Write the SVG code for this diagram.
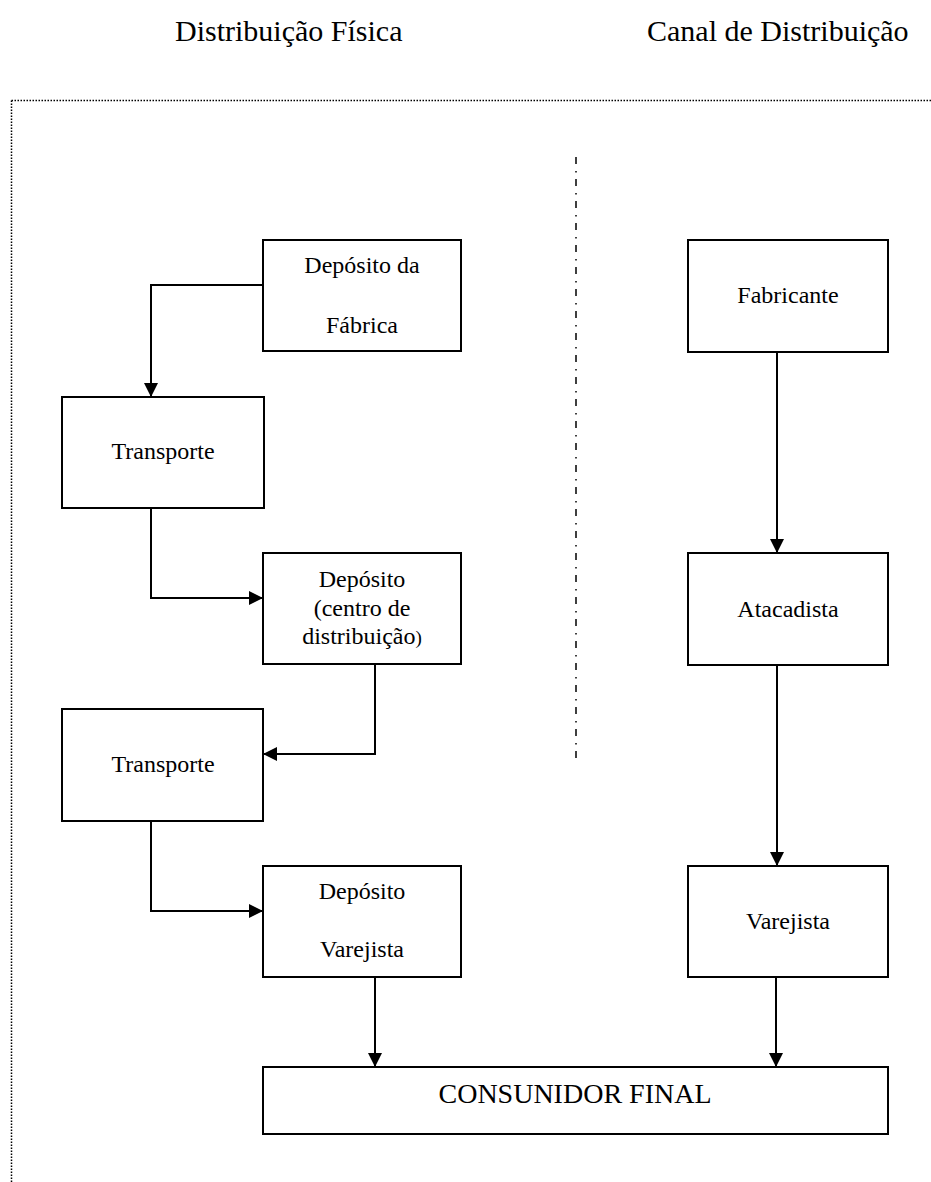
<svg xmlns="http://www.w3.org/2000/svg" width="931" height="1182" viewBox="0 0 931 1182">
<defs>
<style>
.box{fill:#fff;stroke:#000;stroke-width:2}
.t{font-family:"Liberation Serif","Times New Roman",serif;font-size:24px;fill:#000;text-anchor:middle}
.h{font-family:"Liberation Serif","Times New Roman",serif;font-size:30px;fill:#000}
.c{fill:none;stroke:#000;stroke-width:2}
</style>
<marker id="ah" markerUnits="userSpaceOnUse" markerWidth="15" markerHeight="15" refX="14" refY="7" orient="auto">
<path d="M0,0 L14,7 L0,14 z" fill="#000"/>
</marker>
</defs>
<rect width="931" height="1182" fill="#fff"/>
<text class="h" x="175" y="41">Distribuição Física</text>
<text class="h" x="647" y="41">Canal de Distribuição</text>
<path d="M11.5,100.5 H931 M11.5,100.5 V1182" fill="none" stroke="#000" stroke-width="1.5" stroke-dasharray="1.5 1.5"/>
<line x1="576" y1="157" x2="576" y2="765" stroke="#000" stroke-width="1.5" stroke-dasharray="7 7 1.5 6.5"/>
<g id="n1"><rect class="box" x="263" y="240" width="198" height="111"/><text class="t" x="362" y="273">Depósito da</text><text class="t" x="362" y="333">Fábrica</text></g>
<g id="n2"><rect class="box" x="62" y="397" width="202" height="111"/><text class="t" x="163" y="459">Transporte</text></g>
<g id="n3"><rect class="box" x="263" y="553" width="198" height="111"/><text class="t" x="362" y="587">Depósito</text><text class="t" x="362" y="616">(centro de</text><text class="t" x="362" y="644">distribuição<tspan font-size="19">)</tspan></text></g>
<g id="n4"><rect class="box" x="62" y="709" width="201" height="112"/><text class="t" x="163" y="772">Transporte</text></g>
<g id="n5"><rect class="box" x="263" y="866" width="198" height="111"/><text class="t" x="362" y="899">Depósito</text><text class="t" x="362" y="957">Varejista</text></g>
<g id="n6"><rect class="box" x="688" y="240" width="200" height="112"/><text class="t" x="788" y="303">Fabricante</text></g>
<g id="n7"><rect class="box" x="688" y="553" width="200" height="112"/><text class="t" x="788" y="617">Atacadista</text></g>
<g id="n8"><rect class="box" x="688" y="866" width="200" height="111"/><text class="t" x="788" y="929">Varejista</text></g>
<g id="n9"><rect class="box" x="263" y="1067" width="625" height="67"/><text class="t" x="575" y="1103" style="font-size:28px">CONSUNIDOR FINAL</text></g>
<g id="connectors">
<path class="c" marker-end="url(#ah)" d="M263,285 H151 V397"/>
<path class="c" marker-end="url(#ah)" d="M151,508 V598 H263"/>
<path class="c" marker-end="url(#ah)" d="M375,664 V754 H263"/>
<path class="c" marker-end="url(#ah)" d="M151,821 V911 H263"/>
<path class="c" marker-end="url(#ah)" d="M375,977 V1067"/>
<path class="c" marker-end="url(#ah)" d="M777,352 V553"/>
<path class="c" marker-end="url(#ah)" d="M777,665 V866"/>
<path class="c" marker-end="url(#ah)" d="M776,977 V1067"/>
</g>
</svg>
